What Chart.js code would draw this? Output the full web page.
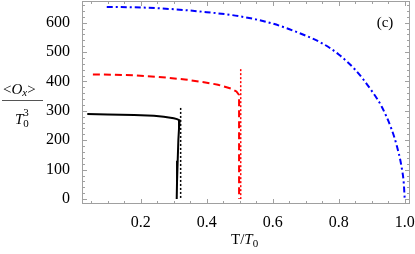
<!DOCTYPE html>
<html>
<head>
<meta charset="utf-8">
<script src="https://cdn.jsdelivr.net/npm/chart.js@4"></script>
<style>
  html, body { margin: 0; padding: 0; background: #fff; }
  #wrap { width: 415px; height: 254px; position: relative; }
</style>
</head>
<body>
<div id="wrap"><canvas id="chart"></canvas></div>
<script>
// Data (T/T0 vs <Ox>/T0^3)
const blackT = [0.038, 0.10, 0.18, 0.24, 0.27, 0.30, 0.31, 0.318, 0.316, 0.314, 0.312, 0.310, 0.309];
const blackO = [289, 288, 286, 283, 280, 275, 272, 268, 240, 200, 130, 60, 0];
const blackDotT = [0.321, 0.321];
const blackDotO = [310, 0];

const redT = [0.055, 0.12, 0.183, 0.25, 0.334, 0.40, 0.434, 0.476, 0.49, 0.498, 0.498];
const redO = [424, 423, 421, 416, 407, 396, 389, 375, 366, 354, 0];
const redDotT = [0.503, 0.503];
const redDotO = [442, 0];

const blueT = [0.097, 0.2, 0.3, 0.4, 0.5, 0.6, 0.7, 0.75, 0.8, 0.85, 0.9, 0.93, 0.96, 0.975, 0.99, 0.997, 1.0];
const blueO = [654, 652, 646, 636, 622, 597, 556, 530, 492, 440, 368, 315, 238, 185, 112, 55, 0];

const xTickLabels = [0.2, 0.4, 0.6, 0.8, 1.0];
const yTickLabels = [0, 100, 200, 300, 400, 500, 600];

function pts(xs, ys) {
    return xs.map((x, i) => ({ x: x, y: ys[i] }));
}

const serif = '"Liberation Serif", "DejaVu Serif", serif';

// Mathematica-style frame with inward ticks on all four sides
const framePlugin = {
    id: 'frame',
    afterDraw(chart) {
        const ctx = chart.ctx;
        const a = chart.chartArea;
        const xs = chart.scales.x;
        const ys = chart.scales.y;
        ctx.save();
        ctx.strokeStyle = '#a0a0a0';
        ctx.lineWidth = 1;
        ctx.strokeRect(a.left + 0.5, a.top + 0.5, a.right - a.left - 1, a.bottom - a.top - 1);

        ctx.beginPath();
        xs.ticks.forEach(t => {
            const v = Math.round(t.value * 100);
            if (v % 5 !== 0) return;
            const px = Math.round(xs.getPixelForValue(t.value)) + 0.5;
            const len = (v % 20 === 0) ? 5 : 3;
            ctx.moveTo(px, a.bottom);
            ctx.lineTo(px, a.bottom - len);
            ctx.moveTo(px, a.top);
            ctx.lineTo(px, a.top + len);
        });
        ys.ticks.forEach(t => {
            if (t.value % 20 !== 0) return;
            const py = Math.round(ys.getPixelForValue(t.value)) + 0.5;
            const len = (t.value % 100 === 0) ? 5 : 3;
            ctx.moveTo(a.left, py);
            ctx.lineTo(a.left + len, py);
            ctx.moveTo(a.right, py);
            ctx.lineTo(a.right - len, py);
        });
        ctx.stroke();

        // panel label
        ctx.fillStyle = '#000';
        ctx.font = '15px ' + serif;
        ctx.textAlign = 'center';
        ctx.textBaseline = 'middle';
        ctx.fillText('(c)', 385, 23);

        // x axis title: T/T0
        ctx.textBaseline = 'alphabetic';
        ctx.textAlign = 'left';
        let x = 231;
        const by = 244;
        ctx.font = '15px ' + serif;
        ctx.fillText('T/', x, by);
        x += ctx.measureText('T/').width;
        ctx.font = 'italic 15px ' + serif;
        ctx.fillText('T', x, by);
        x += ctx.measureText('T').width;
        ctx.font = '11px ' + serif;
        ctx.fillText('0', x, by + 3);

        // y axis title: <Ox> over T0^3
        let nx = 3;
        const ny = 94;
        ctx.font = '15px ' + serif;
        ctx.fillText('<', nx, ny);
        nx += ctx.measureText('<').width;
        ctx.font = 'italic 15px ' + serif;
        ctx.fillText('O', nx, ny);
        nx += ctx.measureText('O').width;
        ctx.font = 'italic 11px ' + serif;
        ctx.fillText('x', nx, ny + 2);
        nx += ctx.measureText('x').width;
        ctx.font = '15px ' + serif;
        ctx.fillText('>', nx, ny);

        ctx.strokeStyle = '#555';
        ctx.beginPath();
        ctx.moveTo(2, 100.5);
        ctx.lineTo(43, 100.5);
        ctx.stroke();

        let dx = 15;
        const dy = 124;
        ctx.font = 'italic 15px ' + serif;
        ctx.fillText('T', dx, dy);
        dx += ctx.measureText('T').width;
        ctx.font = '11px ' + serif;
        ctx.fillText('0', dx, dy + 3);
        ctx.fillText('3', dx, dy - 8);
        ctx.restore();
    }
};

new Chart(document.getElementById('chart'), {
    type: 'scatter',
    data: {
        datasets: [
            {
                data: pts(blueT, blueO),
                showLine: true,
                borderColor: '#0000ff',
                borderWidth: 2,
                borderDash: [6, 3, 2, 3],
                pointRadius: 0,
                cubicInterpolationMode: 'monotone'
            },
            {
                data: pts(redT, redO),
                showLine: true,
                borderColor: '#ff0000',
                borderWidth: 2,
                borderDash: [7, 4],
                pointRadius: 0,
                tension: 0
            },
            {
                data: pts(redDotT, redDotO),
                showLine: true,
                borderColor: '#ff0000',
                borderWidth: 1.5,
                borderDash: [2, 2],
                pointRadius: 0
            },
            {
                data: pts(blackT, blackO),
                showLine: true,
                borderColor: '#000000',
                borderWidth: 2,
                pointRadius: 0,
                tension: 0
            },
            {
                data: pts(blackDotT, blackDotO),
                showLine: true,
                borderColor: '#000000',
                borderWidth: 1.5,
                borderDash: [2, 2],
                pointRadius: 0
            }
        ]
    },
    options: {
        responsive: true,
        maintainAspectRatio: false,
        animation: false,
        layout: { padding: { top: 1, right: 5, left: 0, bottom: 0 } },
        plugins: {
            legend: { display: false },
            tooltip: { enabled: false }
        },
        scales: {
            x: {
                type: 'linear',
                min: 0.022,
                max: 1.016,
                afterFit: s => {
                    s.height = 50;
                    s.paddingLeft = 0;
                    s.paddingRight = 0;
                },
                afterBuildTicks: s => {
                    const t = [];
                    for (let i = 1; i <= 20; i++) t.push({ value: i * 0.05 });
                    s.ticks = t;
                },
                grid: { display: false },
                border: { display: false },
                ticks: {
                    autoSkip: false,
                    maxRotation: 0,
                    padding: 1,
                    color: '#000',
                    font: { family: serif, size: 16 },
                    callback: v => {
                        const hit = xTickLabels.find(l => Math.abs(l - v) < 1e-6);
                        return hit !== undefined ? hit.toFixed(1) : '';
                    }
                }
            },
            y: {
                type: 'linear',
                min: -17,
                max: 674,
                afterFit: s => {
                    s.width = 82;
                    s.paddingTop = 0;
                    s.paddingBottom = 0;
                },
                afterBuildTicks: s => {
                    const t = [];
                    for (let v = 0; v <= 660; v += 20) t.push({ value: v });
                    s.ticks = t;
                },
                grid: { display: false },
                border: { display: false },
                ticks: {
                    autoSkip: false,
                    padding: 4,
                    color: '#000',
                    font: { family: serif, size: 16 },
                    callback: v => yTickLabels.includes(v) ? String(v) : ''
                }
            }
        }
    },
    plugins: [framePlugin]
});
</script>
</body>
</html>
